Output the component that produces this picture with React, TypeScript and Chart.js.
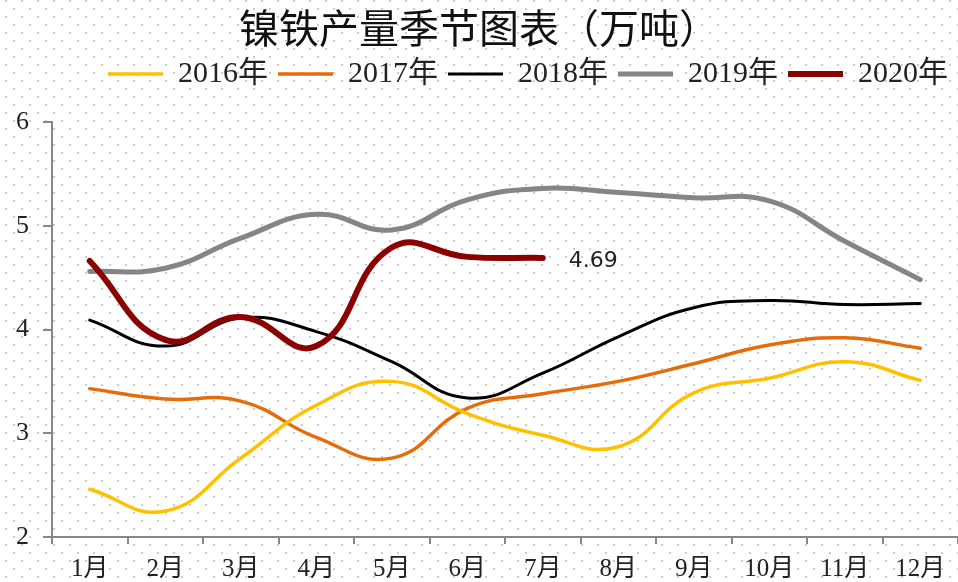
import React, { useEffect, useRef } from 'react';
import { Chart, registerables } from 'chart.js';

Chart.register(...registerables);

const months = ['1月', '2月', '3月', '4月', '5月', '6月', '7月', '8月', '9月', '10月', '11月', '12月'];
const seriesNames = ['2016年', '2017年', '2018年', '2019年', '2020年'];
const s2016 = [2.46, 2.25, 2.76, 3.27, 3.5, 3.19, 2.98, 2.87, 3.39, 3.53, 3.69, 3.51];
const s2017 = [3.43, 3.33, 3.31, 2.96, 2.76, 3.24, 3.38, 3.5, 3.67, 3.85, 3.92, 3.82];
const s2018 = [4.09, 3.84, 4.11, 3.98, 3.69, 3.34, 3.58, 3.93, 4.21, 4.28, 4.24, 4.25];
const s2019 = [4.56, 4.59, 4.88, 5.11, 4.96, 5.25, 5.36, 5.32, 5.27, 5.24, 4.85, 4.48];
const s2020 = [4.66, 3.9, 4.12, 3.84, 4.79, 4.7, 4.69, null, null, null, null, null];
const lastLabel = '4.69';
const yMin = 2;
const yMax = 6;
const yStep = 1;

const colors = ['#FFC000', '#E46C0A', '#000000', '#858585', '#8B0000'];
const widths = [3.5, 3.5, 3, 5, 6];

const serif = '"Liberation Serif", "Noto Sans CJK SC", serif';

export default function App() {
  const ref = useRef<HTMLCanvasElement>(null);

  useEffect(() => {
    document.body.style.margin = '0';
    const canvas = ref.current;
    if (!canvas) return;

    const bgDots = {
      id: 'bgDots',
      beforeDraw(chart: any) {
        const { ctx, width, height } = chart;
        ctx.save();
        ctx.fillStyle = '#ffffff';
        ctx.fillRect(0, 0, width, height);
        ctx.fillStyle = '#cccccc';
        for (let n = 0; ; n++) {
          const y = 1.3 + 8 * n;
          if (y > height) break;
          const x0 = n % 2 === 0 ? 5.7 : 13.7;
          for (let x = x0; x < width; x += 16) {
            ctx.fillRect(Math.round(x) - 1, Math.round(y) - 1, 2, 2);
          }
        }
        ctx.restore();
      },
    };

    const legendSpace = {
      id: 'legendSpace',
      beforeInit(chart: any) {
        const legend = chart.legend;
        if (!legend) return;
        const origFit = legend.fit;
        legend.fit = function () {
          origFit.call(this);
          this.height += 23;
        };
      },
    };

    const endLabel = {
      id: 'endLabel',
      afterDatasetsDraw(chart: any) {
        const meta = chart.getDatasetMeta(4);
        const idx = s2020.length - 1 - [...s2020].reverse().findIndex((v) => v !== null);
        const pt = meta.data[idx];
        if (!pt) return;
        const { ctx } = chart;
        ctx.save();
        ctx.font = '22px "DejaVu Sans", sans-serif';
        ctx.fillStyle = '#222';
        ctx.textAlign = 'left';
        ctx.textBaseline = 'middle';
        ctx.fillText(lastLabel, pt.x + 26, pt.y + 3);
        ctx.restore();
      },
    };

    const allSeries = [s2016, s2017, s2018, s2019, s2020];

    const chart = new Chart(canvas, {
      type: 'line',
      data: {
        labels: months,
        datasets: allSeries.map((d, i) => ({
          label: seriesNames[i],
          data: d,
          borderColor: colors[i],
          backgroundColor: colors[i],
          borderWidth: widths[i],
          pointRadius: 0,
          pointHoverRadius: 0,
          tension: 0.45,
          fill: false,
          spanGaps: false,
          borderCapStyle: 'round',
          borderJoinStyle: 'round',
          order: i === 4 ? -1 : 0,
        })),
      },
      options: {
        responsive: false,
        animation: false,
        devicePixelRatio: 1,
        layout: { padding: { left: 0, right: 0, top: 0, bottom: 0 } },
        plugins: {
          tooltip: { enabled: false },
          title: {
            display: true,
            text: '镍铁产量季节图表（万吨）',
            color: '#111',
            font: { family: '"Noto Sans CJK SC", sans-serif', size: 40, weight: 'normal' },
            padding: { top: 4, bottom: -3 },
          },
          legend: {
            display: true,
            position: 'top',
            align: 'end',
            labels: {
              usePointStyle: true,
              pointStyle: 'line',
              pointStyleWidth: 55,
              color: '#222',
              padding: 10,
              font: { family: serif, size: 30 },
              sort: (a: any, b: any) => a.datasetIndex - b.datasetIndex,
            },
          },
        },
        scales: {
          x: {
            type: 'category',
            offset: true,
            grid: {
              display: true,
              offset: true,
              drawOnChartArea: false,
              drawTicks: true,
              tickLength: 7,
              color: '#878787',
              lineWidth: 2,
            },
            border: { display: true, color: '#878787', width: 2 },
            ticks: {
              color: '#222',
              font: { family: serif, size: 25 },
              padding: 10,
              maxRotation: 0,
              autoSkip: false,
            },
            afterFit(s: any) {
              s.height = 45;
            },
          },
          y: {
            min: yMin,
            max: yMax,
            grid: {
              display: true,
              drawOnChartArea: false,
              drawTicks: true,
              tickLength: 9,
              color: '#878787',
              lineWidth: 2,
            },
            border: { display: true, color: '#878787', width: 2 },
            ticks: {
              stepSize: yStep,
              color: '#222',
              font: { family: serif, size: 26 },
              padding: 14,
            },
            afterFit(s: any) {
              s.width = 52;
            },
          },
        },
      },
      plugins: [bgDots, legendSpace, endLabel],
    } as any);

    return () => {
      chart.destroy();
    };
  }, []);

  return (
    <div style={{ width: 958, height: 582 }}>
      <canvas ref={ref} width={958} height={582} style={{ display: 'block' }} />
    </div>
  );
}
